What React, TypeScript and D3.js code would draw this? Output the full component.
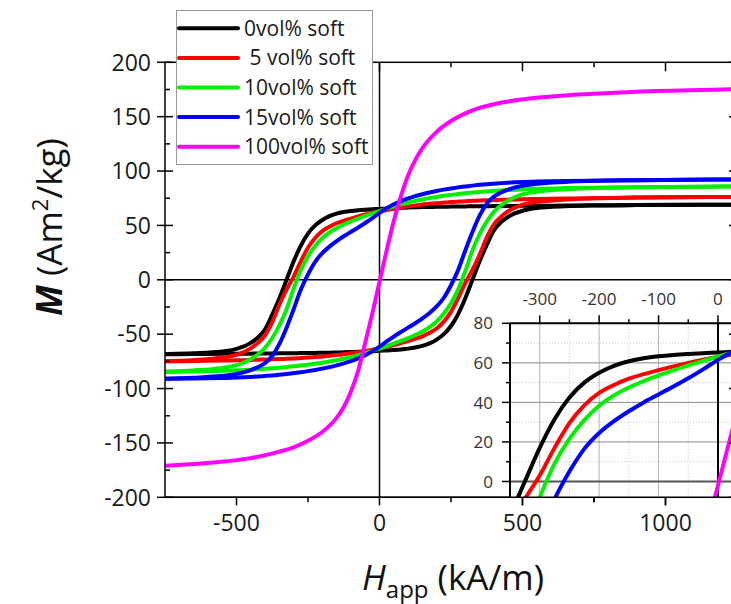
import React, { useEffect, useRef } from "react";
import * as d3 from "d3";

// Applied field grid (kA/m) shared by all branch arrays
const fieldH = [-1500,-1200,-900,-750,-650,-550,-500,-450,-425,-400,-375,-350,-325,-300,-275,-250,-225,-200,-175,-150,-125,-100,-75,-50,-25,0,25,50,75,100,125,150,175,200,225,250,275,300,325,350,375,400,425,450,500,550,650,750,900,1200,1500];

// Descending (upper) branches, M in Am^2/kg
const black_up = [-69.2,-69,-68.7,-68.3,-67.6,-66,-63.5,-58,-53,-45.5,-32,-17,0,17,31.5,42.5,50,55,58.5,60.8,62.3,63.3,64,64.5,64.9,65.2,65.6,65.9,66.2,66.5,66.7,66.9,67,67.1,67.2,67.3,67.4,67.5,67.6,67.6,67.7,67.8,67.8,67.9,68,68.1,68.3,68.5,68.7,69,69.2];
const red_up = [-76.5,-76.2,-75.6,-75,-73.8,-71.5,-69,-63,-58,-51,-39,-23,-9,3,17,29.5,38.5,44.8,48.8,52,54.3,56.3,58.2,60,61.6,63,64.2,65.4,66.5,67.5,68.4,69.2,69.9,70.5,71,71.5,71.9,72.3,72.6,72.9,73.1,73.3,73.5,73.7,74,74.3,74.7,75,75.6,76.2,76.5];
const green_up = [-86,-85.7,-85.2,-84.4,-83.3,-81,-78.5,-73,-68.5,-62.5,-53.5,-42,-27,-8,9,21.5,31,38.3,43.5,47.5,50.8,53.6,56.2,58.7,61,63.2,65.4,67.5,69.4,71.1,72.6,73.9,75.1,76.2,77.2,78.1,78.9,79.6,80.2,80.8,81.3,81.8,82.2,82.6,83.2,83.7,84.3,84.7,85.2,85.7,86];
const blue_up = [-92.5,-92.2,-91.6,-91,-90,-88.3,-86.5,-83,-80.3,-76.5,-70,-59,-44,-27,-9,5,16.5,24.5,30.5,35.5,40,44,48,52.2,56.7,61.5,65.8,69.4,72.3,74.8,76.9,78.7,80.3,81.7,82.9,84,85,85.8,86.6,87.3,87.9,88.4,88.9,89.3,89.9,90.3,90.8,91.1,91.6,92.2,92.5];

// Ascending (lower) branches
const black_down = [-69.2,-69,-68.7,-68.5,-68.3,-68.1,-68,-67.9,-67.8,-67.8,-67.7,-67.6,-67.6,-67.5,-67.4,-67.3,-67.2,-67.1,-67,-66.9,-66.7,-66.5,-66.2,-65.9,-65.6,-65.2,-64.9,-64.5,-64,-63.3,-62.3,-60.8,-58.5,-55,-50,-42.5,-31.5,-17,0,17,32,45.5,53,58,63.5,66,67.6,68.3,68.7,69,69.2];
const red_down = [-76.5,-76.2,-75.6,-75,-74.7,-74.3,-74,-73.7,-73.5,-73.3,-73.1,-72.9,-72.6,-72.3,-71.9,-71.5,-71,-70.5,-69.9,-69.2,-68.4,-67.5,-66.5,-65.4,-64.2,-63,-61.6,-60,-58.2,-56.3,-54.3,-52,-48.8,-44.8,-38.5,-29.5,-17,-3,9,23,39,51,58,63,69,71.5,73.8,75,75.6,76.2,76.5];
const green_down = [-86,-85.7,-85.2,-84.7,-84.3,-83.7,-83.2,-82.6,-82.2,-81.8,-81.3,-80.8,-80.2,-79.6,-78.9,-78.1,-77.2,-76.2,-75.1,-73.9,-72.6,-71.1,-69.4,-67.5,-65.4,-63.2,-61,-58.7,-56.2,-53.6,-50.8,-47.5,-43.5,-38.3,-31,-21.5,-9,8,27,42,53.5,62.5,68.5,73,78.5,81,83.3,84.4,85.2,85.7,86];
const blue_down = [-92.5,-92.2,-91.6,-91.1,-90.8,-90.3,-89.9,-89.3,-88.9,-88.4,-87.9,-87.3,-86.6,-85.8,-85,-84,-82.9,-81.7,-80.3,-78.7,-76.9,-74.8,-72.3,-69.4,-65.8,-61.5,-56.7,-52.2,-48,-44,-40,-35.5,-30.5,-24.5,-16.5,-5,9,27,44,59,70,76.5,80.3,83,86.5,88.3,90,91,91.6,92.2,92.5];

// 100 vol% soft (essentially anhysteretic)
const magentaH = [-1500,-1200,-900,-750,-600,-450,-350,-300,-250,-200,-150,-125,-100,-75,-50,-25,0,25,50,75,100,125,150,200,250,300,350,450,600,750,900,1200,1500];
const magentaM = [-176.5,-175,-173,-171,-168.5,-164,-158,-154,-148,-140,-127,-117,-103,-84,-58,-31,-2,27,54,77,96,110,121,136,146,153,158,164,168.5,171,173,175,176.5];

const seriesNames = ["0vol% soft", " 5 vol% soft", "10vol% soft", "15vol% soft", "100vol% soft"];
const seriesColors = ["#000000", "#ff0000", "#00f000", "#0000ff", "#ff00ff"];

const mainXTicks = [-500, 0, 500, 1000];
const mainXMinor = [-250, 250, 750];
const mainYTicks = [-200, -150, -100, -50, 0, 50, 100, 150, 200];
const mainYMinor = [-175, -125, -75, -25, 25, 75, 125, 175];
const insetXTicks = [-300, -200, -100, 0];
const insetXMinor = [-250, -150, -50];
const insetYTicks = [0, 20, 40, 60, 80];
const insetYMinor = [10, 30, 50, 70];

const FONT = "'Open Sans', sans-serif";

export default function App() {
  const ref = useRef<SVGSVGElement>(null);
  useEffect(() => {
    const svg = d3.select(ref.current);
    svg.selectAll("*").remove();

    const x = d3.scaleLinear().domain([-750, 1250]).range([165, 737]);
    const y = d3.scaleLinear().domain([-200, 200]).range([497.3, 62.3]);
    const [X0, X1] = x.range();
    const [Y0, Y1] = [y.range()[1], y.range()[0]];

    const defs = svg.append("defs");
    defs.append("clipPath").attr("id", "mainClip").append("rect")
      .attr("x", X0).attr("y", Y0).attr("width", X1 - X0).attr("height", Y1 - Y0);

    const loops = [
      { up: black_up, down: black_down },
      { up: red_up, down: red_down },
      { up: green_up, down: green_down },
      { up: blue_up, down: blue_down },
    ];

    const g = svg.append("g");
    // zero lines
    g.append("line").attr("x1", X0).attr("x2", X1).attr("y1", y(0)).attr("y2", y(0)).attr("stroke", "#000").attr("stroke-width", 1.5);
    g.append("line").attr("x1", x(0)).attr("x2", x(0)).attr("y1", Y0).attr("y2", Y1).attr("stroke", "#000").attr("stroke-width", 1.5);

    const curves = g.append("g").attr("clip-path", "url(#mainClip)");
    const mkLine = (sx: any, sy: any) => d3.line<[number, number]>().x(d => sx(d[0])).y(d => sy(d[1])).curve(d3.curveMonotoneX);
    const mainLine = mkLine(x, y);
    loops.forEach((lp, i) => {
      [lp.up, lp.down].forEach(arr => {
        curves.append("path").attr("d", mainLine(fieldH.map((h, k) => [h, arr[k]]) as any))
          .attr("fill", "none").attr("stroke", seriesColors[i]).attr("stroke-width", 4).attr("stroke-linejoin", "round");
      });
    });
    curves.append("path").attr("d", mainLine(magentaH.map((h, k) => [h, magentaM[k]]) as any))
      .attr("fill", "none").attr("stroke", seriesColors[4]).attr("stroke-width", 4);

    // frame
    g.append("rect").attr("x", X0).attr("y", Y0).attr("width", X1 - X0).attr("height", Y1 - Y0)
      .attr("fill", "none").attr("stroke", "#000").attr("stroke-width", 1.5);

    // ticks
    const tk = g.append("g").attr("stroke", "#000").attr("stroke-width", 1.5);
    mainYTicks.forEach(v => {
      tk.append("line").attr("x1", X0 - 8).attr("x2", X0 + 8).attr("y1", y(v)).attr("y2", y(v));
    });
    mainYMinor.forEach(v => {
      tk.append("line").attr("x1", X0).attr("x2", X0 + 5).attr("y1", y(v)).attr("y2", y(v));
    });
    mainXTicks.forEach(v => {
      tk.append("line").attr("x1", x(v)).attr("x2", x(v)).attr("y1", Y1).attr("y2", Y1 + 8);
      tk.append("line").attr("x1", x(v)).attr("x2", x(v)).attr("y1", Y0).attr("y2", Y0 + 9);
    });
    mainXMinor.forEach(v => {
      tk.append("line").attr("x1", x(v)).attr("x2", x(v)).attr("y1", Y1).attr("y2", Y1 + 5);
      tk.append("line").attr("x1", x(v)).attr("x2", x(v)).attr("y1", Y0).attr("y2", Y0 + 5);
    });

    // tick labels
    const lab = g.append("g").attr("font-family", FONT).attr("font-size", 23).attr("fill", "#1a1a1a");
    mainYTicks.forEach(v => {
      lab.append("text").attr("x", 151).attr("y", y(v)).attr("dy", "0.36em").attr("text-anchor", "end").text(String(v));
    });
    mainXTicks.forEach(v => {
      lab.append("text").attr("x", x(v)).attr("y", 531).attr("text-anchor", "middle").text(String(v));
    });

    // axis titles
    const yt = g.append("text").attr("transform", "translate(62,227) rotate(-90)")
      .attr("text-anchor", "middle").attr("font-family", FONT).attr("font-size", 35).attr("fill", "#111");
    yt.append("tspan").attr("font-weight", "bold").attr("font-style", "italic").text("M");
    yt.append("tspan").text(" (Am");
    yt.append("tspan").attr("font-size", 22).attr("dy", -14).text("2");
    yt.append("tspan").attr("dy", 14).text("/kg)");

    const xt = g.append("text").attr("x", 453).attr("y", 590)
      .attr("text-anchor", "middle").attr("font-family", FONT).attr("font-size", 35).attr("fill", "#111");
    xt.append("tspan").attr("font-style", "italic").text("H");
    xt.append("tspan").attr("font-size", 24).attr("dy", 8).text("app");
    xt.append("tspan").attr("dy", -8).text(" (kA/m)");

    // ---------- inset ----------
    const xi = d3.scaleLinear().domain([-350, 32]).range([510, 737]);
    const yi = d3.scaleLinear().domain([-8, 80]).range([497.3, 323.3]);
    const [IX0, IX1] = xi.range();
    const IY0 = yi.range()[1], IY1 = yi.range()[0];
    defs.append("clipPath").attr("id", "insetClip").append("rect")
      .attr("x", IX0).attr("y", IY0).attr("width", IX1 - IX0).attr("height", IY1 - IY0);

    const ig = svg.append("g");
    ig.append("rect").attr("x", IX0).attr("y", IY0).attr("width", IX1 - IX0).attr("height", IY1 - IY0).attr("fill", "#fff");
    // grid
    insetXMinor.forEach(v => ig.append("line").attr("x1", xi(v)).attr("x2", xi(v)).attr("y1", IY0).attr("y2", IY1)
      .attr("stroke", "#c8c8c8").attr("stroke-width", 1).attr("stroke-dasharray", "1,2"));
    insetYMinor.forEach(v => ig.append("line").attr("x1", IX0).attr("x2", IX1).attr("y1", yi(v)).attr("y2", yi(v))
      .attr("stroke", "#c8c8c8").attr("stroke-width", 1).attr("stroke-dasharray", "1,2"));
    insetXTicks.filter(v => v !== 0).forEach(v => ig.append("line").attr("x1", xi(v)).attr("x2", xi(v)).attr("y1", IY0).attr("y2", IY1)
      .attr("stroke", "#b4b4b4").attr("stroke-width", 1));
    insetYTicks.filter(v => v !== 0 && v !== 80).forEach(v => ig.append("line").attr("x1", IX0).attr("x2", IX1).attr("y1", yi(v)).attr("y2", yi(v))
      .attr("stroke", "#8c8c8c").attr("stroke-width", 1));
    ig.append("line").attr("x1", IX0).attr("x2", IX1).attr("y1", yi(0)).attr("y2", yi(0)).attr("stroke", "#555").attr("stroke-width", 2);
    ig.append("line").attr("x1", xi(0)).attr("x2", xi(0)).attr("y1", IY0).attr("y2", IY1).attr("stroke", "#000").attr("stroke-width", 2);

    const insetLine = mkLine(xi, yi);
    const ic = ig.append("g").attr("clip-path", "url(#insetClip)");
    loops.forEach((lp, i) => {
      [lp.up, lp.down].forEach(arr => {
        ic.append("path").attr("d", insetLine(fieldH.map((h, k) => [h, arr[k]]) as any))
          .attr("fill", "none").attr("stroke", seriesColors[i]).attr("stroke-width", 4);
      });
    });
    ic.append("path").attr("d", insetLine(magentaH.map((h, k) => [h, magentaM[k]]) as any))
      .attr("fill", "none").attr("stroke", seriesColors[4]).attr("stroke-width", 4);

    // inset axes
    ig.append("line").attr("x1", IX0).attr("x2", IX1).attr("y1", IY0).attr("y2", IY0).attr("stroke", "#000").attr("stroke-width", 2);
    ig.append("line").attr("x1", IX0).attr("x2", IX0).attr("y1", IY0).attr("y2", IY1).attr("stroke", "#000").attr("stroke-width", 2);
    const itk = ig.append("g").attr("stroke", "#000").attr("stroke-width", 1.5);
    insetXTicks.forEach(v => itk.append("line").attr("x1", xi(v)).attr("x2", xi(v)).attr("y1", IY0).attr("y2", IY0 - 8));
    insetXMinor.forEach(v => itk.append("line").attr("x1", xi(v)).attr("x2", xi(v)).attr("y1", IY0).attr("y2", IY0 - 4));
    insetYTicks.forEach(v => itk.append("line").attr("x1", IX0).attr("x2", IX0 - 8).attr("y1", yi(v)).attr("y2", yi(v)));
    insetYMinor.forEach(v => itk.append("line").attr("x1", IX0).attr("x2", IX0 - 4).attr("y1", yi(v)).attr("y2", yi(v)));
    const ilab = ig.append("g").attr("font-family", FONT).attr("font-size", 17).attr("fill", "#333");
    insetXTicks.forEach(v => ilab.append("text").attr("x", xi(v)).attr("y", 305).attr("text-anchor", "middle").text(String(v)));
    insetYTicks.forEach(v => ilab.append("text").attr("x", 493).attr("y", yi(v)).attr("dy", "0.36em").attr("text-anchor", "end").text(String(v)));

    // main bottom axis line over inset and right-axis ticks
    svg.append("line").attr("x1", X0).attr("x2", X1).attr("y1", Y1).attr("y2", Y1).attr("stroke", "#000").attr("stroke-width", 1.5);
    const rt = svg.append("g").attr("stroke", "#000").attr("stroke-width", 1.5);
    mainYTicks.forEach(v => rt.append("line").attr("x1", X1).attr("x2", X1 - 8).attr("y1", y(v)).attr("y2", y(v)));
    mainXTicks.filter(v => v >= 500).forEach(v => rt.append("line").attr("x1", x(v)).attr("x2", x(v)).attr("y1", Y1).attr("y2", Y1 + 8));
    mainXMinor.filter(v => v >= 500).forEach(v => rt.append("line").attr("x1", x(v)).attr("x2", x(v)).attr("y1", Y1).attr("y2", Y1 + 5));

    // ---------- legend ----------
    const lg = svg.append("g");
    lg.append("rect").attr("x", 176.5).attr("y", 10.5).attr("width", 196).attr("height", 154)
      .attr("fill", "#fff").attr("stroke", "#9a9a9a").attr("stroke-width", 1);
    seriesNames.forEach((name, i) => {
      const ly = 28.3 + i * 29.6;
      lg.append("line").attr("x1", 179).attr("x2", 238).attr("y1", ly).attr("y2", ly)
        .attr("stroke", seriesColors[i]).attr("stroke-width", 4).attr("stroke-linecap", "round");
      lg.append("text").attr("x", 244).attr("y", ly).attr("dy", "0.36em").attr("font-family", FONT)
        .attr("font-size", 21).attr("fill", "#1a1a1a").style("white-space", "pre").text(name);
    });
  }, []);
  return (
    <svg ref={ref} width={731} height={604} style={{ position: "absolute", left: 0, top: 0, display: "block", background: "#fff" }} />
  );
}
